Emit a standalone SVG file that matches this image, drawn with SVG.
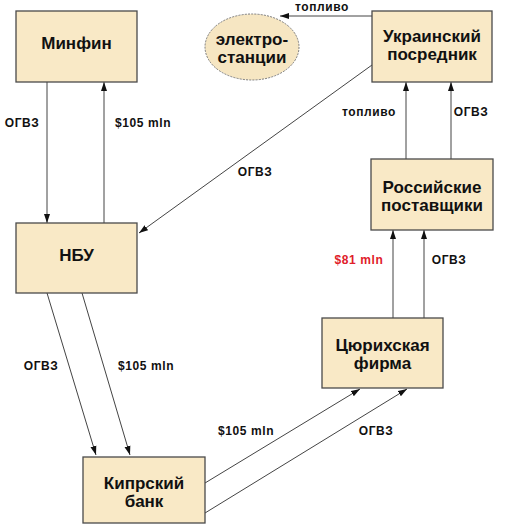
<svg xmlns="http://www.w3.org/2000/svg" width="509" height="529" viewBox="0 0 509 529">
<style>
.box{fill:#f9e9c6;stroke:#4a4a4a;stroke-width:1.3}
.ell{fill:#f6e6c2;stroke:#7a7a7a;stroke-width:1;stroke-dasharray:2 1.2}
.nt{font-family:"Liberation Sans",Arial,sans-serif;font-weight:bold;font-size:17px;fill:#111;text-anchor:middle}
.lb{font-family:"Liberation Sans",Arial,sans-serif;font-weight:bold;font-size:12px;fill:#111;text-anchor:middle;letter-spacing:0.6px}
.red{fill:#e0202a}
.c{stroke:#444;stroke-width:1;fill:none;marker-end:url(#ah)}
</style>
<defs>
<marker id="ah" markerUnits="userSpaceOnUse" markerWidth="10" markerHeight="7" refX="9" refY="3.5" orient="auto">
<path d="M0,0.5 L9,3.5 L0,6.5 z" fill="#111"/>
</marker>
</defs>
<rect width="509" height="529" fill="#ffffff"/>
<g id="connectors">
<line class="c" x1="47" y1="82" x2="47" y2="223"/>
<line class="c" x1="104" y1="223" x2="104" y2="82"/>
<line class="c" x1="372" y1="65" x2="139" y2="233"/>
<line class="c" x1="372" y1="16" x2="280" y2="16"/>
<line class="c" x1="406" y1="159" x2="406" y2="82"/>
<line class="c" x1="451" y1="159" x2="451" y2="82"/>
<line class="c" x1="393" y1="318" x2="393" y2="230"/>
<line class="c" x1="424" y1="318" x2="424" y2="230"/>
<line class="c" x1="47" y1="293" x2="96" y2="455"/>
<line class="c" x1="82" y1="293" x2="130" y2="455"/>
<line class="c" x1="205" y1="483" x2="360" y2="389"/>
<line class="c" x1="205" y1="513" x2="407" y2="389"/>
</g>
<g id="labels">
<text class="lb" x="22" y="127">ОГВЗ</text>
<text class="lb" x="143" y="127">$105 mln</text>
<text class="lb" x="255" y="176">ОГВЗ</text>
<text class="lb" x="322" y="11">топливо</text>
<text class="lb" x="369" y="116">топливо</text>
<text class="lb" x="471" y="116">ОГВЗ</text>
<text class="lb red" x="359" y="264">$81 mln</text>
<text class="lb" x="449" y="264">ОГВЗ</text>
<text class="lb" x="41" y="370">ОГВЗ</text>
<text class="lb" x="146" y="370">$105 mln</text>
<text class="lb" x="246" y="435">$105 mln</text>
<text class="lb" x="376" y="435">ОГВЗ</text>
</g>
<g id="minfin">
<rect class="box" x="16" y="11" width="121" height="71"/>
<text class="nt" x="76.5" y="49">Минфин</text>
</g>
<g id="electro">
<ellipse class="ell" cx="252" cy="47" rx="47" ry="33"/>
<text class="nt" x="252" y="45">электро-</text>
<text class="nt" x="252" y="63">станции</text>
</g>
<g id="ukr">
<rect class="box" x="372" y="11" width="120" height="71"/>
<text class="nt" x="432" y="42">Украинский</text>
<text class="nt" x="432" y="60">посредник</text>
</g>
<g id="nbu">
<rect class="box" x="16" y="223" width="121" height="70"/>
<text class="nt" x="76.5" y="261">НБУ</text>
</g>
<g id="ros">
<rect class="box" x="371" y="159" width="122" height="71"/>
<text class="nt" x="432" y="193">Российские</text>
<text class="nt" x="432" y="211">поставщики</text>
</g>
<g id="zur">
<rect class="box" x="322" y="318" width="121" height="70"/>
<text class="nt" x="382.5" y="351">Цюрихская</text>
<text class="nt" x="382.5" y="369">фирма</text>
</g>
<g id="cyprus">
<rect class="box" x="83" y="457" width="122" height="66"/>
<text class="nt" x="144" y="489">Кипрский</text>
<text class="nt" x="144" y="507">банк</text>
</g>
</svg>
